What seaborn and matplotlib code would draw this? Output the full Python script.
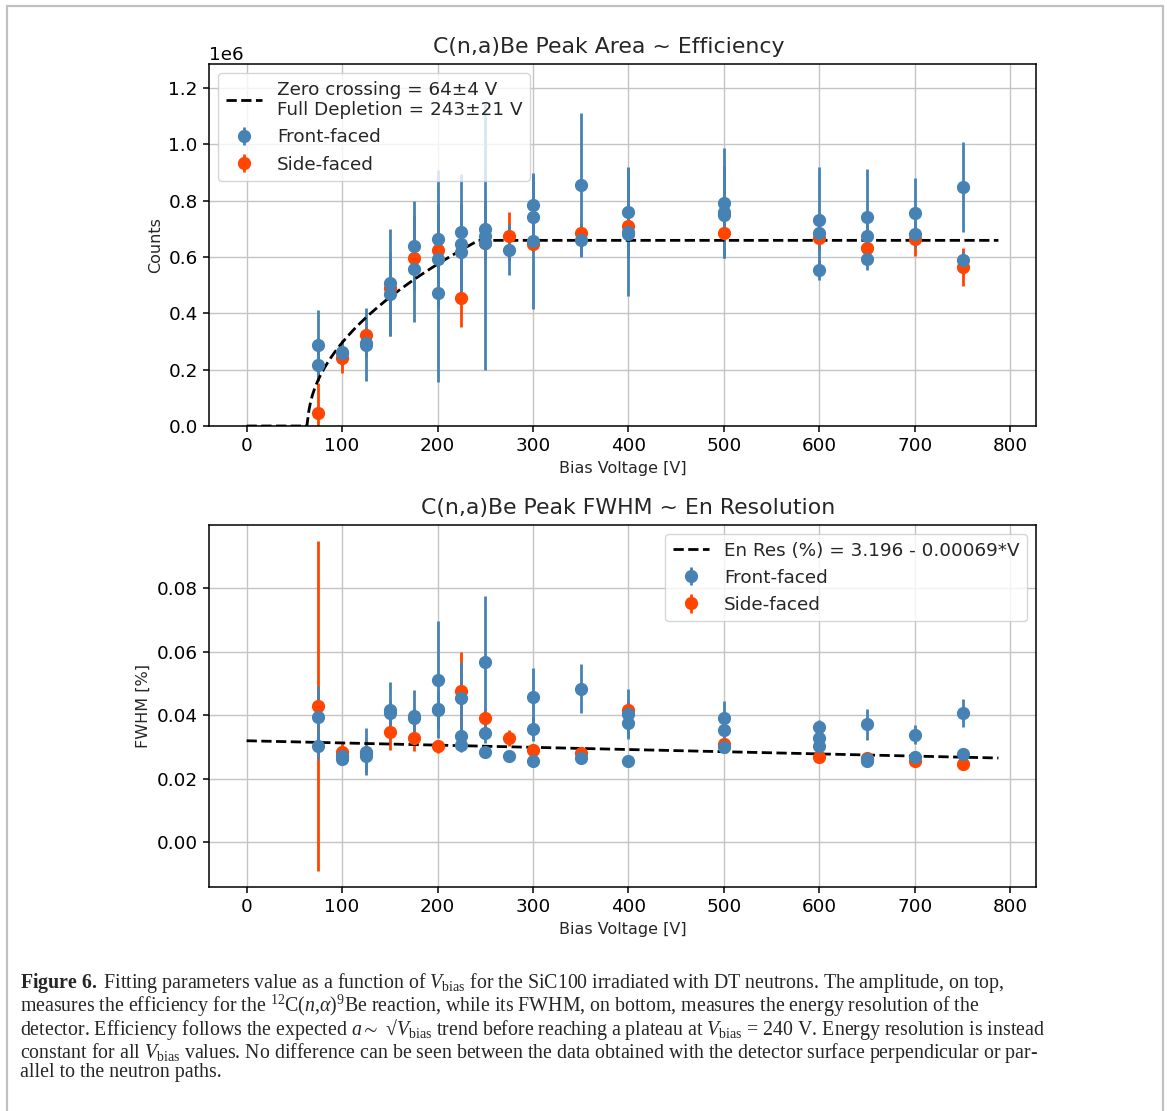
import matplotlib.pyplot as plt
import numpy as np
import seaborn as sns
from matplotlib.patches import Rectangle

# ── Data ─────────────────────────────────────────────────
front_v = [75, 75, 100, 100, 125, 125, 150, 150, 175, 175, 200, 200, 200,
           225, 225, 225, 250, 250, 250, 275, 300, 300, 300, 350, 350,
           400, 400, 400, 500, 500, 500, 600, 600, 600, 650, 650, 650,
           700, 700, 750, 750]
front_area = [0.287, 0.218, 0.262, 0.258, 0.289, 0.295, 0.509, 0.470, 0.638,
              0.559, 0.665, 0.592, 0.472, 0.689, 0.647, 0.618, 0.700, 0.675,
              0.648, 0.626, 0.785, 0.742, 0.657, 0.856, 0.659, 0.759, 0.689,
              0.680, 0.791, 0.759, 0.750, 0.733, 0.686, 0.555, 0.742, 0.674,
              0.593, 0.756, 0.680, 0.848, 0.588]
front_area_err = [0.124, 0.060, 0.045, 0.030, 0.130, 0.050, 0.190, 0.150,
                  0.160, 0.190, 0.245, 0.100, 0.315, 0.204, 0.100, 0.170,
                  0.100, 0.475, 0.060, 0.090, 0.110, 0.080, 0.240, 0.254,
                  0.060, 0.162, 0.227, 0.050, 0.196, 0.163, 0.080, 0.188,
                  0.060, 0.035, 0.171, 0.070, 0.040, 0.125, 0.040, 0.159,
                  0.030]
front_fwhm = [0.0395, 0.0302, 0.0262, 0.0273, 0.0285, 0.0271, 0.0416, 0.0408,
              0.0398, 0.0392, 0.0512, 0.0417, 0.0420, 0.0454, 0.0333, 0.0307,
              0.0568, 0.0344, 0.0285, 0.0273, 0.0456, 0.0358, 0.0257, 0.0484,
              0.0264, 0.0404, 0.0377, 0.0257, 0.0390, 0.0354, 0.0299, 0.0364,
              0.0329, 0.0304, 0.0371, 0.0262, 0.0257, 0.0338, 0.0270, 0.0407,
              0.0277]
front_fwhm_err = [0.0098, 0.0040, 0.0020, 0.0020, 0.0074, 0.0050, 0.0090,
                  0.0040, 0.0082, 0.0030, 0.0185, 0.0060, 0.0030, 0.0112,
                  0.0040, 0.0022, 0.0206, 0.0030, 0.0020, 0.0015, 0.0094,
                  0.0040, 0.0015, 0.0078, 0.0015, 0.0080, 0.0047, 0.0012,
                  0.0056, 0.0030, 0.0015, 0.0020, 0.0020, 0.0015, 0.0048,
                  0.0015, 0.0012, 0.0030, 0.0012, 0.0043, 0.0015]

side_v = [75, 100, 125, 150, 175, 200, 225, 250, 275, 300, 350, 400, 500,
          600, 650, 700, 750]
side_area = [0.045, 0.242, 0.322, 0.490, 0.598, 0.626, 0.456, 0.651, 0.673,
             0.647, 0.686, 0.709, 0.684, 0.668, 0.631, 0.665, 0.565]
side_area_err = [0.106, 0.055, 0.030, 0.030, 0.030, 0.030, 0.105, 0.030,
                 0.088, 0.030, 0.030, 0.030, 0.020, 0.030, 0.030, 0.063,
                 0.067]
side_fwhm = [0.0429, 0.0285, 0.0282, 0.0348, 0.0327, 0.0302, 0.0477, 0.0390,
             0.0329, 0.0290, 0.0281, 0.0416, 0.0309, 0.0267, 0.0265, 0.0256,
             0.0246]
side_fwhm_err = [0.0518, 0.0030, 0.0020, 0.0057, 0.0040, 0.0020, 0.0121,
                 0.0030, 0.0025, 0.0020, 0.0015, 0.0030, 0.0020, 0.0015,
                 0.0012, 0.0012, 0.0015]

# Fit parameters given in the legends
ZERO_CROSSING = 64.0
FULL_DEPLETION = 243.0
PLATEAU = 0.659e6
RES_INTERCEPT = 3.196
RES_SLOPE = 0.00069
FIT_VMAX = 787.5

COUNTS_UNIT = 1e6
BLUE = "steelblue"
RED = "orangered"

AREA_FIT_LABEL = "Zero crossing = 64±4 V\nFull Depletion = 243±21 V"
FWHM_FIT_LABEL = "En Res (%) = 3.196 - 0.00069*V"

# ── Style ────────────────────────────────────────────────
sns.set_style("ticks", {"axes.grid": True})
plt.rcParams.update({
    "font.family": ["DejaVu Sans"],
    "axes.edgecolor": "black",
    "axes.linewidth": 1.1,
    "grid.color": "#c4c4c4",
    "grid.linewidth": 1.0,
    "xtick.color": "black",
    "ytick.color": "black",
    "xtick.labelsize": 13.2,
    "ytick.labelsize": 13.2,
    "xtick.major.size": 4.6,
    "ytick.major.size": 4.6,
    "xtick.major.width": 1.1,
    "ytick.major.width": 1.1,
    "legend.fontsize": 13.2,
    "mathtext.fontset": "custom",
    "mathtext.rm": "Liberation Serif",
    "mathtext.it": "Liberation Serif:italic",
    "mathtext.bf": "Liberation Serif:bold",
    "mathtext.fallback": "stix",
})

fit_v = np.linspace(0, FIT_VMAX, 400)
fit_area = PLATEAU * np.sqrt(
    np.clip((fit_v - ZERO_CROSSING) / (FULL_DEPLETION - ZERO_CROSSING), 0, 1)
)
fit_fwhm = (RES_INTERCEPT - RES_SLOPE * fit_v) / 100

W, H = 1167, 1111
fig = plt.figure(figsize=(W / 100, H / 100), dpi=100)


def px_axes(left, top, right, bottom):
    return fig.add_axes([left / W, 1 - bottom / H, (right - left) / W,
                         (bottom - top) / H])


ax1 = px_axes(209, 64, 1036, 426)
ax2 = px_axes(209, 525, 1036, 887)

err_kw = dict(fmt="o", ms=8.5, elinewidth=2.0, capsize=0)

# ── Top: peak area ───────────────────────────────────────
ax1.errorbar(side_v, np.array(side_area) * COUNTS_UNIT,
             yerr=np.array(side_area_err) * COUNTS_UNIT, color=RED,
             label="Side-faced", **err_kw)
ax1.errorbar(front_v, np.array(front_area) * COUNTS_UNIT,
             yerr=np.array(front_area_err) * COUNTS_UNIT, color=BLUE,
             label="Front-faced", **err_kw)
sns.lineplot(x=fit_v, y=fit_area, ax=ax1, color="black", linestyle="--",
             linewidth=2.0, label=AREA_FIT_LABEL)
ax1.set_ylim(0, 1.285e6)
ax1.set_title("C(n,a)Be Peak Area ~ Efficiency", fontsize=15.8, pad=8,
              x=0.483)
ax1.set_xlabel("Bias Voltage [V]", fontsize=11.5)
ax1.set_ylabel("Counts", fontsize=11.5)

# ── Bottom: peak FWHM ────────────────────────────────────
ax2.errorbar(side_v, side_fwhm, yerr=side_fwhm_err, color=RED,
             label="Side-faced", **err_kw)
ax2.errorbar(front_v, front_fwhm, yerr=front_fwhm_err, color=BLUE,
             label="Front-faced", **err_kw)
sns.lineplot(x=fit_v, y=fit_fwhm, ax=ax2, color="black", linestyle="--",
             linewidth=2.0, label=FWHM_FIT_LABEL)
ax2.set_title("C(n,a)Be Peak FWHM ~ En Resolution", fontsize=15.8, pad=8,
              x=0.507)
ax2.set_xlabel("Bias Voltage [V]", fontsize=11.5)
ax2.set_ylabel("FWHM [%]", fontsize=11.5)

for ax, loc, fit_label in [(ax1, "upper left", AREA_FIT_LABEL),
                           (ax2, "upper right", FWHM_FIT_LABEL)]:
    ax.set_xticks(range(0, 801, 100))
    ax.grid(True)
    handles, labels = ax.get_legend_handles_labels()
    by_label = dict(zip(labels, handles))
    order = [fit_label, "Front-faced", "Side-faced"]
    ax.legend([by_label[k] for k in order], order, loc=loc, framealpha=0.8,
              edgecolor="#cccccc", fancybox=True)

# ── Caption (one text block, so the lines never collide) ─
caption_lines = [
    r"$\mathbf{Figure\ 6.\ }$Fitting parameters value as a function of "
    r"$V_{\mathrm{bias}}$ for the SiC100 irradiated with DT neutrons. "
    r"The amplitude, on top,",
    r"measures the efficiency for the $^{12}$C($n$,$\alpha$)$^{9}$Be "
    r"reaction, while its FWHM, on bottom, measures the energy resolution "
    r"of the",
    r"detector. Efficiency follows the expected $a \sim$ √"
    r"$V_{\mathrm{bias}}$ trend before reaching a plateau at "
    r"$V_{\mathrm{bias}}$ = 240 V. Energy resolution is instead",
    r"constant for all $V_{\mathrm{bias}}$ values. No difference can be seen "
    r"between the data obtained with the detector surface perpendicular "
    r"or par-",
    r"allel to the neutron paths.",
]
fig.text(20 / W, 1 - 971 / H, "\n".join(caption_lines),
         family="Liberation Serif", fontsize=14.3, va="top", ha="left",
         linespacing=0.9)

# Grey frame around the figure block
fig.patches.append(Rectangle((7 / W, -0.05), (1163 - 7) / W,
                             1 - 6 / H + 0.05, transform=fig.transFigure,
                             fill=False, edgecolor="#c0c0c0", linewidth=1.6))

fig.savefig("out.png", dpi=100)
